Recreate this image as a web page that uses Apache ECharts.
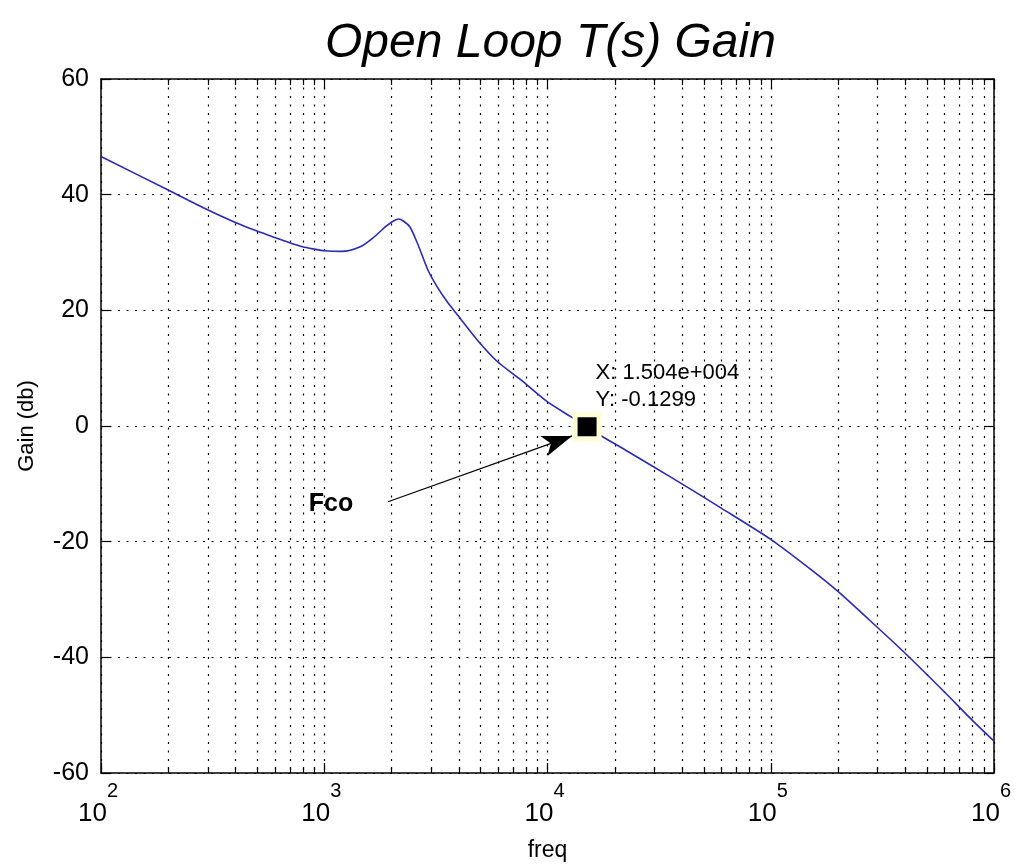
<!DOCTYPE html>
<html>
<head>
<meta charset="utf-8">
<script src="https://cdn.jsdelivr.net/npm/echarts@6/dist/echarts.min.js"></script>
<style>
html,body{margin:0;padding:0;background:#fff;}
#chart{width:1017px;height:867px;}
</style>
</head>
<body>
<div id="chart"></div>
<script>
// ---- data ----
const freq = [100, 200, 300, 400, 500, 600, 700, 800, 900, 1000, 1200, 1450, 1650, 1900, 2050, 2150, 2270, 2420, 2595, 2733, 2927, 3190, 3535, 3900, 4890, 5940, 7530, 9900, 12600, 15040, 17200, 22900, 29700, 40000, 60000, 100000, 150000, 200000, 300000, 400000, 600000, 800000, 1000000];
const gain = [46.6, 40.8, 37.4, 35.2, 33.7, 32.6, 31.7, 31.0, 30.6, 30.3, 30.2, 31.0, 32.5, 34.6, 35.5, 35.8, 35.4, 34.4, 31.9, 29.7, 26.8, 24.2, 21.6, 19.5, 14.7, 11.2, 8.1, 4.3, 1.7, -0.13, -1.6, -4.4, -7.0, -10.0, -14.2, -19.6, -24.7, -28.6, -34.8, -39.3, -46.0, -50.9, -54.5];
const minorFreqs = [200,300,400,500,600,700,800,900, 2000,3000,4000,5000,6000,7000,8000,9000, 20000,30000,40000,50000,60000,70000,80000,90000, 200000,300000,400000,500000,600000,700000,800000,900000];
const yTicks = [-60, -40, -20, 0, 20, 40, 60];
const tipPoint = [15040, -0.1299];
const tipText = ['X: 1.504e+004', 'Y: -0.1299'];
const arrowStart = [1931, -13.1];
const arrowEnd = [12890, -1.72];
const arrowLabel = 'Fco';
const titleText = 'Open Loop T(s) Gain';
const xName = 'freq';
const yName = 'Gain (db)';

const FONT = 'Liberation Sans, Arial, Helvetica, sans-serif';
const DOT = [2, 6.5];

const chart = echarts.init(document.getElementById('chart'), null, {renderer: 'canvas'});

const lineData = freq.map((f, i) => [f, gain[i]]);

const option = {
  backgroundColor: '#fff',
  animation: false,
  title: {
    text: titleText,
    left: 320,
    top: 15,
    textStyle: {fontFamily: FONT, fontStyle: 'italic', fontWeight: 'normal', fontSize: 48, color: '#000'}
  },
  grid: {left: 101, right: 23, top: 79, bottom: 91, containLabel: false},
  xAxis: [{
    type: 'log', logBase: 10, min: 100, max: 1000000, position: 'bottom',
    name: xName, nameLocation: 'middle', nameGap: 66,
    nameTextStyle: {fontFamily: FONT, fontSize: 23, color: '#000'},
    axisLine: {show: true, onZero: false, lineStyle: {color: '#000', width: 1.5}},
    axisTick: {show: true, inside: true, length: 10, lineStyle: {color: '#000', width: 1.2}},
    axisLabel: {
      margin: 4, color: '#000', fontFamily: FONT,
      formatter: v => '{b|10}{s|' + Math.round(Math.log10(v)) + '}',
      rich: {
        b: {fontSize: 26, fontFamily: FONT, color: '#000', verticalAlign: 'top', padding: [24, 0, 0, 0]},
        s: {fontSize: 20, fontFamily: FONT, color: '#000', verticalAlign: 'top', padding: [4, 6, 0, 0]}
      }
    },
    splitLine: {show: true, lineStyle: {color: '#000', width: 1.2, type: DOT}},
    minorTick: {show: false}
  }, {
    type: 'log', logBase: 10, min: 100, max: 1000000, position: 'top',
    axisLine: {show: true, onZero: false, lineStyle: {color: '#000', width: 1.5}},
    axisTick: {show: true, inside: true, length: 10, lineStyle: {color: '#000', width: 1.2}},
    axisLabel: {show: false},
    splitLine: {show: false}
  }],
  yAxis: [{
    type: 'value', min: -60, max: 60, interval: 20, position: 'left',
    name: yName, nameLocation: 'middle', nameGap: 63,
    nameTextStyle: {fontFamily: FONT, fontSize: 22, color: '#000'},
    axisLine: {show: true, onZero: false, lineStyle: {color: '#000', width: 1.5}},
    axisTick: {show: true, inside: true, length: 10, lineStyle: {color: '#000', width: 1.2}},
    axisLabel: {margin: 12, fontFamily: FONT, fontSize: 25, color: '#000',
      formatter: v => yTicks.indexOf(v) >= 0 ? String(v) : ''},
    splitLine: {show: true, lineStyle: {color: '#000', width: 1.2, type: DOT}}
  }, {
    type: 'value', min: -60, max: 60, interval: 20, position: 'right',
    axisLine: {show: true, onZero: false, lineStyle: {color: '#000', width: 1.5}},
    axisTick: {show: true, inside: true, length: 10, lineStyle: {color: '#000', width: 1.2}},
    axisLabel: {show: false},
    splitLine: {show: false}
  }],
  series: [
    {
      type: 'custom',
      xAxisIndex: 0, yAxisIndex: 0,
      silent: true, z: 1,
      data: minorFreqs.map(f => [f, 0]),
      encode: {x: 0, y: 1},
      renderItem: function (params, api) {
        const cs = params.coordSys;
        const x = Math.round(api.coord([api.value(0), 0])[0]) + 0.5;
        const top = cs.y, bot = cs.y + cs.height;
        return {
          type: 'group',
          children: [
            {type: 'line', shape: {x1: x, y1: top, x2: x, y2: bot},
             style: {stroke: '#000', lineWidth: 1.2, lineDash: DOT}},
            {type: 'line', shape: {x1: x, y1: bot, x2: x, y2: bot - 6},
             style: {stroke: '#000', lineWidth: 1.2}},
            {type: 'line', shape: {x1: x, y1: top, x2: x, y2: top + 6},
             style: {stroke: '#000', lineWidth: 1.2}}
          ]
        };
      }
    },
    {
      type: 'line',
      xAxisIndex: 0, yAxisIndex: 0,
      data: lineData,
      smooth: 0.25,
      showSymbol: false,
      symbol: 'none',
      z: 3,
      lineStyle: {color: '#2a2ab4', width: 1.6}
    },
    {
      type: 'scatter',
      xAxisIndex: 0, yAxisIndex: 0,
      z: 5,
      data: [tipPoint],
      symbol: 'rect',
      symbolSize: 24,
      itemStyle: {color: '#000', opacity: 1, borderColor: '#ffffd6', borderWidth: 5},
      emphasis: {disabled: true},
      label: {
        show: true,
        position: [23, -53],
        formatter: tipText.join('\n'),
        fontFamily: FONT, fontSize: 22, lineHeight: 27, color: '#000', opacity: 1
      },
      markLine: {
        silent: true,
        symbol: ['none', 'arrow'],
        symbolSize: [16, 30],
        lineStyle: {color: '#000', width: 1.3, type: 'solid', opacity: 1},
        label: {
          show: true, position: 'start', distance: [37, 8],
          formatter: arrowLabel,
          fontFamily: FONT, fontSize: 25, fontWeight: 'bold', color: '#000'
        },
        data: [[{coord: arrowStart}, {coord: arrowEnd}]]
      }
    }
  ]
};
chart.setOption(option);
</script>
</body>
</html>
